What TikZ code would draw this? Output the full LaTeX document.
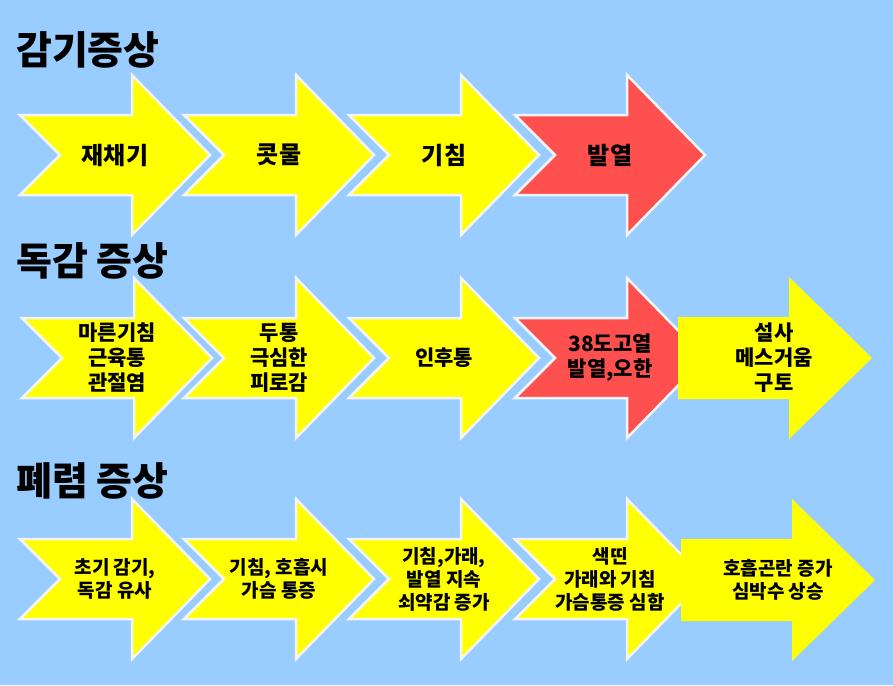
\documentclass[tikz,border=0pt]{standalone}
\usepackage{fontspec}
\setmainfont{Noto Sans CJK KR}
\definecolor{sky}{HTML}{99CCFF}
\definecolor{lemon}{HTML}{FFFF00}
\definecolor{coral}{HTML}{FF5050}
\definecolor{rimwhite}{HTML}{F4F4F4}
\newcommand{\notcharw}[2]{(#1,#2-40)--(#1+112,#2-40)--(#1+112,#2-80)--(#1+190,#2)--(#1+112,#2+80)--(#1+112,#2+40)--(#1,#2+40)--(#1+40,#2)--cycle}
\newcommand{\flatarw}[2]{(#1,#2-41)--(#1+111,#2-41)--(#1+111,#2-81)--(#1+194,#2)--(#1+111,#2+81)--(#1+111,#2+41)--(#1,#2+41)--cycle}
\tikzset{chev/.style={draw=rimwhite,line width=2.5pt,line join=miter},
  hdr/.style={font=\bfseries\fontsize{39}{43}\selectfont,anchor=west,inner sep=0},
  lbl/.style={font=\bfseries\fontsize{21}{25}\selectfont,align=center,inner sep=0},
  lblbig/.style={lbl,font=\bfseries\fontsize{24}{28}\selectfont},
  lblsm/.style={lbl,font=\bfseries\fontsize{19}{23}\selectfont}}

\begin{document}
\begin{tikzpicture}[x=1pt,y=-1pt]
\fill[sky] (0,0) rectangle (893,685);
% 감기
\node[hdr] (cold) at (16,50) {감기증상};
\foreach \x/\c/\t [count=\i] in {20/lemon/재채기,184/lemon/콧물,349/lemon/기침,515/coral/발열}{
  \path[fill=\c,chev] \notcharw{\x}{155};
  \node[lblbig] (cold\i) at (\x+95,155) {\t};}
% 독감
\node[hdr] (flu) at (16,261) {독감 증상};
\foreach \x/\c/\t [count=\i] in {22/lemon/{마른기침\\근육통\\관절염},184/lemon/{두통\\극심한\\피로감},349/lemon/인후통,515/coral/{38도고열\\발열,오한}}{
  \path[fill=\c,chev] \notcharw{\x}{358};
  \node[lbl] (flu\i) at (\x+95,358) {\t};}
\fill[lemon] \flatarw{678}{358};
\node[lbl] (flu5) at (774,358) {설사\\메스거움\\구토};
% 폐렴
\node[hdr] (pneu) at (16,481) {폐렴 증상};
\foreach \x/\c/\t [count=\i] in {20/lemon/{초기 감기,\\독감 유사},184/lemon/{기침, 호흡시\\가슴 통증},349/lemon/{기침,가래,\\발열 지속\\쇠약감 증가},515/lemon/{색띤\\가래와 기침\\가슴통증 심함}}{
  \path[fill=\c,chev] \notcharw{\x}{579};
  \node[lblsm] (pneu\i) at (\x+95,579) {\t};}
\fill[lemon] \flatarw{681}{580};
\node[lblsm] (pneu5) at (778,580) {호흡곤란 증가\\심박수 상승};
\end{tikzpicture}
\end{document}
